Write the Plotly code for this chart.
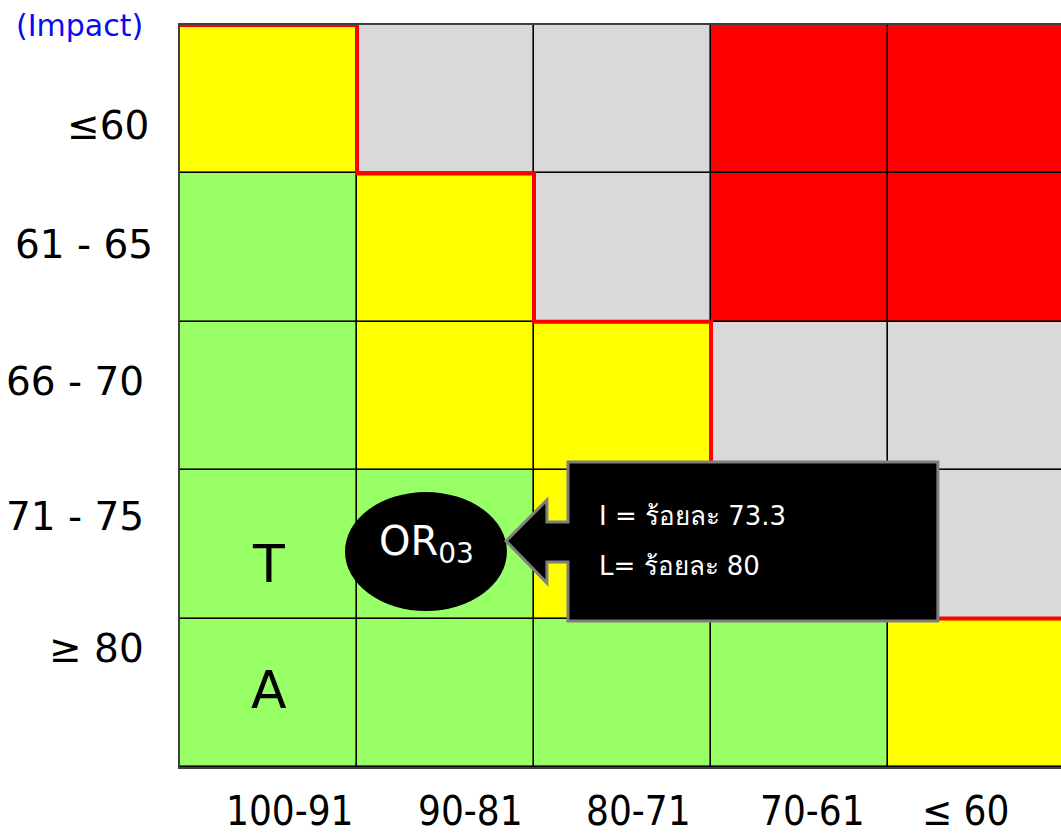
import plotly.graph_objects as go

# ---------------- data ----------------
likelihood_labels = ["100-91", "90-81", "80-71", "70-61", "≤ 60"]
impact_labels = ["≥ 80", "71 - 75", "66 - 70", "61 - 65", "≤60"]  # bottom -> top
# risk level per cell, rows bottom -> top, columns left -> right
# G = green, Y = yellow, S = grey, R = red
risk_rows = [
    ["G", "G", "G", "G", "Y"],   # ≥ 80
    ["G", "G", "Y", "S", "S"],   # 71 - 75
    ["G", "Y", "Y", "S", "S"],   # 66 - 70
    ["G", "Y", "S", "R", "R"],   # 61 - 65
    ["Y", "S", "S", "R", "R"],   # ≤60
]
row_letters = {"71 - 75": "T", "≥ 80": "A"}
item_code = "OR<sub>03</sub>"
impact_pct = 73.3
likelihood_pct = 80

# ---------------- styling ----------------
level_code = {"G": 0, "Y": 1, "S": 2, "R": 3}
level_colors = ["#99FF66", "#FFFF00", "#D9D9D9", "#FF0000"]
colorscale = []
for i, c in enumerate(level_colors):
    colorscale += [[i / 4, c], [(i + 1) / 4, c]]

n_x = len(likelihood_labels)
n_y = len(impact_labels)
xc = [i + 0.5 for i in range(n_x)]
yc = [j + 0.5 for j in range(n_y)]
z = [[level_code[v] for v in row] for row in risk_rows]

fig = go.Figure()
fig.add_trace(go.Heatmap(
    x=xc, y=yc, z=z, colorscale=colorscale, zmin=-0.5, zmax=3.5,
    showscale=False, xgap=1.6, ygap=1.6, hoverinfo="skip"))

# red boundary between acceptable (G/Y) and the rest, derived from the matrix
bx, by = [], []
for c in range(n_x):
    h = 0
    for r in range(n_y):
        if level_code[risk_rows[r][c]] <= 1:
            h = r + 1
        else:
            break
    bx += [c, c + 1]
    by += [h, h]
fig.add_trace(go.Scatter(x=bx, y=by, mode="lines", cliponaxis=False,
                         line=dict(color="#FF0000", width=4), hoverinfo="skip",
                         showlegend=False))

font_main = "DejaVu Sans, Noto Sans, sans-serif"

# pixel helpers for the plot area (left 180, top 25, width 881, height 742)
def px_x(p):
    return (p - 180) / 881

def px_y(p):
    return (767 - p) / 742

annotations = []
# y labels (slightly offset as in the original)
y_label_px = [648, 516, 381, 245, 125]
y_label_right = [146, 146, 146, 155, 151]
for lab, yp, xr in zip(impact_labels, y_label_px, y_label_right):
    annotations.append(dict(x=px_x(xr), y=px_y(yp), xref="paper", yref="paper", text=lab,
                            showarrow=False, xanchor="right", yanchor="middle",
                            font=dict(family=font_main, size=39, color="black")))
# x labels
x_label_px = [289, 470, 638, 812, 965]
for lab, xp in zip(likelihood_labels, x_label_px):
    annotations.append(dict(x=px_x(xp), y=px_y(811), xref="paper", yref="paper", text=lab,
                            showarrow=False, xanchor="center", yanchor="middle",
                            font=dict(family="Liberation Sans Narrow, DejaVu Sans Condensed, DejaVu Sans, sans-serif",
                                      size=40, color="black")))
# letters in first column
letter_y = {"71 - 75": 1.37, "≥ 80": 0.52}
for lab, letter in row_letters.items():
    annotations.append(dict(x=xc[0], y=letter_y[lab], xref="x", yref="y", text=letter,
                            showarrow=False, xanchor="center", yanchor="middle",
                            font=dict(family=font_main, size=52, color="black")))
# (Impact)
annotations.append(dict(x=px_x(14), y=px_y(26), xref="paper", yref="paper", text="(Impact)",
                        showarrow=False, xanchor="left", yanchor="middle",
                        font=dict(family=font_main, size=30, color="#0A0AF5")))

# callout texts
annotations.append(dict(x=1.39, y=1.50, xref="x", yref="y", text=item_code,
                        showarrow=False, xanchor="center", yanchor="middle",
                        font=dict(family=font_main, size=40, color="white")))
annotations.append(dict(x=2.356, y=1.691, xref="x", yref="y",
                        text=f"I = ร้อยละ {impact_pct}", showarrow=False,
                        xanchor="left", yanchor="middle",
                        font=dict(family=font_main, size=26, color="white")))
annotations.append(dict(x=2.356, y=1.354, xref="x", yref="y",
                        text=f"L= ร้อยละ {likelihood_pct}", showarrow=False,
                        xanchor="left", yanchor="middle",
                        font=dict(family=font_main, size=26, color="white")))

shapes = [
    dict(type="circle", xref="x", yref="y", x0=0.932, x1=1.847, y0=1.051, y1=1.853,
         fillcolor="black", line=dict(width=0), layer="above"),
    dict(type="path", xref="x", yref="y", layer="above",
         path="M 2.192,2.055 L 4.282,2.055 L 4.282,0.984 L 2.192,0.984 L 2.192,1.381 "
              "L 2.073,1.381 L 2.073,1.240 L 1.842,1.523 L 2.073,1.799 L 2.073,1.651 "
              "L 2.192,1.651 Z",
         fillcolor="black", line=dict(color="#7F7F7F", width=3)),
]

fig.update_layout(
    width=1061, height=836,
    margin=dict(l=180, r=0, t=25, b=69),
    paper_bgcolor="white", plot_bgcolor="black",
    annotations=annotations, shapes=shapes, showlegend=False,
)
fig.update_xaxes(range=[0, 881 / 177], showticklabels=False, showgrid=False,
                 zeroline=False, ticks="", showline=True, linecolor="#404040",
                 linewidth=2, mirror=True, fixedrange=True)
fig.update_yaxes(range=[0, n_y], showticklabels=False, showgrid=False,
                 zeroline=False, ticks="", showline=True, linecolor="#404040",
                 linewidth=2, mirror=False, fixedrange=True)

fig.write_html(
    "out.html",
    config={"displayModeBar": False},
    post_script="document.body.style.margin='0';document.body.style.overflow='hidden';",
)
